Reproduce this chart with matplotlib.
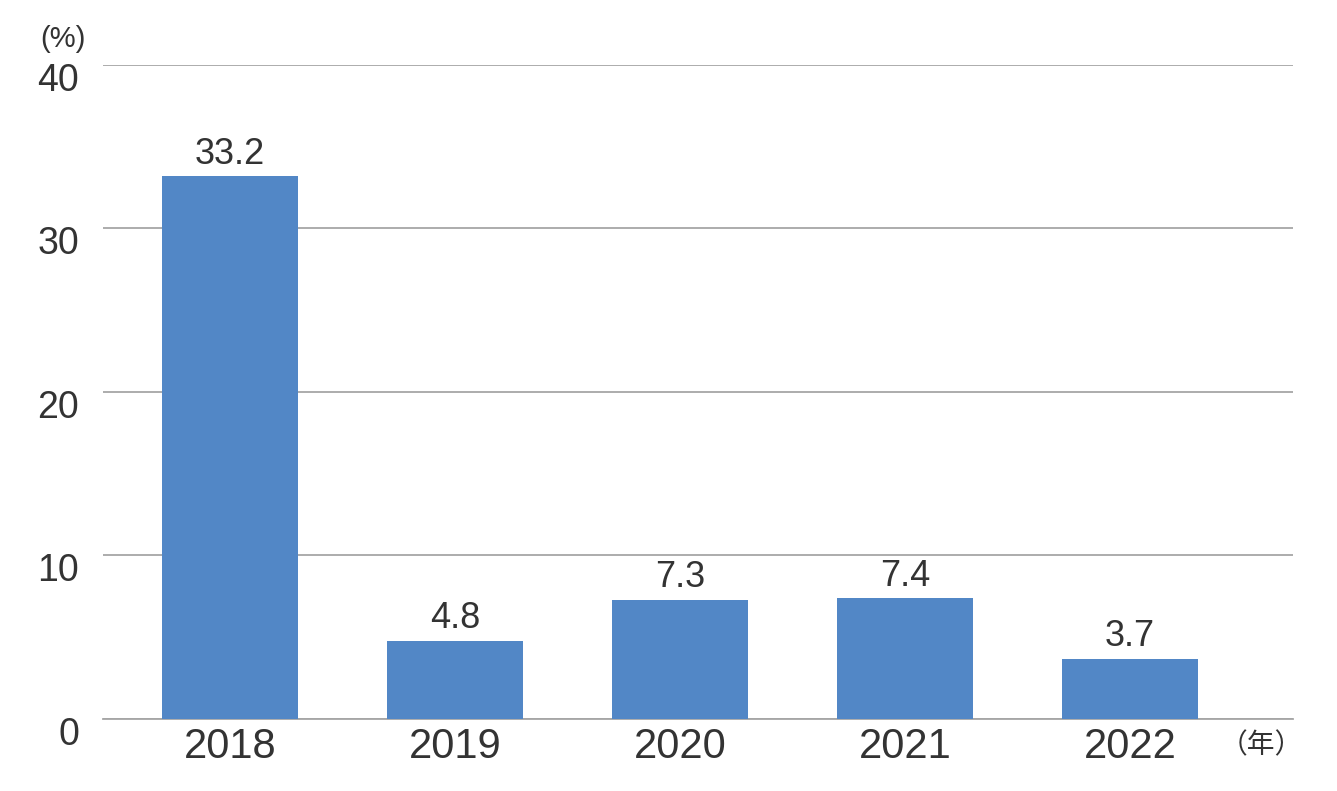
import matplotlib.pyplot as plt
import matplotlib.transforms as mtransforms

# Data
years = ["2018", "2019", "2020", "2021", "2022"]
values = [33.2, 4.8, 7.3, 7.4, 3.7]
y_ticks = [0, 10, 20, 30, 40]

BAR_COLOR = "#5287c6"
TEXT_COLOR = "#333333"
GRID_COLOR = "#a6a6a6"

plt.rcParams['font.family'] = ['Liberation Sans', 'Noto Sans CJK JP', 'DejaVu Sans']

fig = plt.figure(figsize=(13.37, 7.91), dpi=100)
ax = fig.add_axes([0.077, 0.091, 0.890, 0.827])

x = list(range(len(years)))
bars = ax.bar(x, values, width=0.604, color=BAR_COLOR, zorder=3)

# value labels above the bars
for xi, v in zip(x, values):
    ax.annotate(f"{v:.1f}", (xi, v), xytext=(0, 3), textcoords="offset points",
                ha="center", va="bottom", fontsize=26, color=TEXT_COLOR)

ax.set_xlim(-0.564, 4.724)
ax.set_ylim(0, 40)
ax.set_yticks(y_ticks)
ax.set_yticklabels([str(t) for t in y_ticks], fontsize=27, color=TEXT_COLOR)
ax.set_xticks(x)
ax.set_xticklabels(years, fontsize=30, color=TEXT_COLOR)

ax.grid(axis="y", color=GRID_COLOR, linewidth=1.3, zorder=0)
ax.tick_params(axis="both", length=0)
ax.tick_params(axis="y", pad=17)
ax.tick_params(axis="x", pad=6)
for side in ["top", "right", "left"]:
    ax.spines[side].set_visible(False)
ax.spines["bottom"].set_color(GRID_COLOR)
ax.spines["bottom"].set_linewidth(1.3)

# y labels sit a bit below their grid line
offset = mtransforms.ScaledTranslation(0, -0.12, fig.dpi_scale_trans)
for lab in ax.get_yticklabels():
    lab.set_transform(lab.get_transform() + offset)

# unit labels
fig.text(0.030, 0.951, "(%)", fontsize=21, color=TEXT_COLOR, ha="left", va="center")
fig.text(0.943, 0.057, "（年）", fontsize=20, color=TEXT_COLOR, ha="center", va="center")

fig.savefig("out.png", dpi=100)
